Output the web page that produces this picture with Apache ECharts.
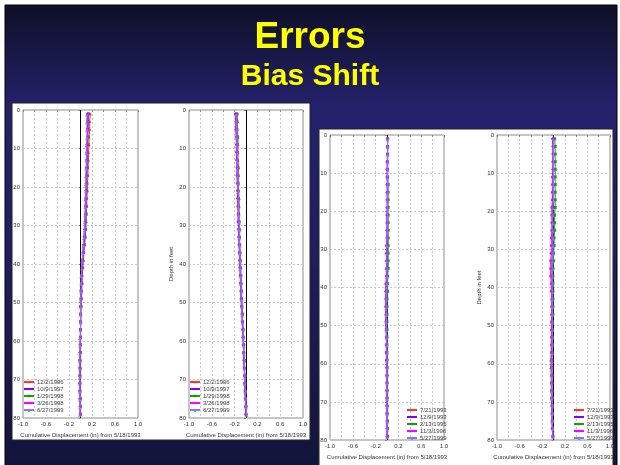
<!DOCTYPE html>
<html><head><meta charset="utf-8">
<script src="https://cdn.jsdelivr.net/npm/echarts@6/dist/echarts.min.js"></script>
<style>html,body{margin:0;padding:0;background:#fff}#c{width:620px;height:465px}</style>
</head><body><div id="c"></div>
<script>
// depths (ft) of readings
const depths = [1,3,5,7,9,11,13,15,17,19,21,23,25,27,29,31,33,35,37,39,41,43,45,47,49,51,53,55,57,59,61,63,65,67,69,71,73,75,77,79];
const xTicks = [-1.0,-0.6,-0.2,0.2,0.6,1.0];
const namesLeft = ['12/2/1996','10/9/1997','1/29/1998','3/26/1998','6/27/1999'];
const namesRight = ['7/21/1993','12/9/1993','2/13/1995','11/3/1996','5/27/1999'];
const colors = ['#ff3333','#8000ff','#1a9a1a','#ff00ff','#7b7bff'];
const symbols = ['triangle','diamond','rect','circle','arrow'];

// Plot 1 (left panel, left)
const p1Red = [0.17,0.16,0.16,0.15,0.15,0.14,0.14,0.13,0.13,0.12,0.12,0.11,0.11,0.10,0.10,0.09,0.08,0.07,0.06,0.05,0.04,0.03,0.03,0.02,0.02,0.01,0.01,0.01,0.00,0.00,0.00,0.00,0.00,0.00,-0.01,-0.01,-0.01,-0.01,0.00,0.00];
const p1Purple = [0.12,0.12,0.12,0.12,0.11,0.11,0.11,0.10,0.10,0.10,0.09,0.09,0.09,0.08,0.08,0.07,0.06,0.05,0.04,0.03,0.02,0.02,0.01,0.01,0.01,0.00,0.00,0.00,0.00,0.00,-0.01,-0.01,-0.01,-0.01,-0.01,-0.01,-0.01,-0.01,-0.01,-0.01];
const p1Green = [0.14,0.14,0.13,0.13,0.13,0.12,0.12,0.12,0.11,0.11,0.11,0.10,0.10,0.10,0.09,0.09,0.08,0.07,0.05,0.04,0.03,0.02,0.02,0.01,0.01,0.01,0.00,0.00,0.00,0.00,0.00,0.00,-0.01,-0.01,-0.01,-0.01,-0.01,0.00,0.00,0.00];
const p1Magenta = [0.13,0.13,0.13,0.12,0.12,0.12,0.11,0.11,0.11,0.10,0.10,0.10,0.09,0.09,0.08,0.08,0.07,0.06,0.05,0.04,0.03,0.02,0.02,0.01,0.01,0.00,0.00,0.00,0.00,0.00,0.00,-0.01,-0.01,-0.01,-0.01,-0.01,-0.01,-0.01,0.00,0.00];
const p1Blue = [0.11,0.11,0.11,0.11,0.10,0.10,0.10,0.10,0.09,0.09,0.09,0.08,0.08,0.08,0.07,0.07,0.06,0.05,0.04,0.03,0.02,0.01,0.01,0.01,0.00,0.00,0.00,0.00,0.00,-0.01,-0.01,-0.01,-0.01,-0.01,-0.01,-0.01,-0.01,-0.01,-0.01,-0.01];

// Plot 2 (left panel, right)
const p2Red = [-0.15,-0.15,-0.15,-0.14,-0.14,-0.14,-0.14,-0.13,-0.13,-0.13,-0.13,-0.12,-0.12,-0.12,-0.12,-0.11,-0.11,-0.11,-0.10,-0.10,-0.09,-0.09,-0.08,-0.08,-0.07,-0.07,-0.06,-0.06,-0.05,-0.05,-0.04,-0.04,-0.03,-0.03,-0.02,-0.02,-0.02,-0.01,-0.01,0.00];
const p2Purple = [-0.19,-0.18,-0.18,-0.17,-0.17,-0.17,-0.16,-0.16,-0.16,-0.15,-0.15,-0.15,-0.14,-0.14,-0.14,-0.13,-0.13,-0.12,-0.12,-0.11,-0.11,-0.10,-0.10,-0.09,-0.09,-0.08,-0.07,-0.07,-0.06,-0.05,-0.05,-0.04,-0.04,-0.03,-0.03,-0.02,-0.02,-0.01,-0.01,0.00];
const p2Green = [-0.16,-0.16,-0.16,-0.15,-0.15,-0.15,-0.15,-0.14,-0.14,-0.14,-0.14,-0.13,-0.13,-0.13,-0.12,-0.12,-0.12,-0.11,-0.11,-0.10,-0.10,-0.09,-0.09,-0.08,-0.08,-0.07,-0.06,-0.06,-0.05,-0.05,-0.04,-0.04,-0.03,-0.03,-0.02,-0.02,-0.01,-0.01,0.00,0.00];
const p2Magenta = [-0.18,-0.17,-0.17,-0.17,-0.16,-0.16,-0.16,-0.15,-0.15,-0.15,-0.14,-0.14,-0.14,-0.13,-0.13,-0.13,-0.12,-0.12,-0.11,-0.11,-0.10,-0.10,-0.09,-0.09,-0.08,-0.08,-0.07,-0.06,-0.06,-0.05,-0.04,-0.04,-0.03,-0.03,-0.02,-0.02,-0.01,-0.01,0.00,0.00];
const p2Blue = [-0.17,-0.17,-0.16,-0.16,-0.16,-0.15,-0.15,-0.15,-0.14,-0.14,-0.14,-0.13,-0.13,-0.13,-0.12,-0.12,-0.12,-0.11,-0.11,-0.10,-0.10,-0.09,-0.09,-0.08,-0.08,-0.07,-0.07,-0.06,-0.05,-0.05,-0.04,-0.04,-0.03,-0.03,-0.02,-0.02,-0.01,-0.01,0.00,0.01];

// Plot 3 (right panel, left)
const p3Red = [0.01,0.01,0.01,0.01,0.01,0.01,0.01,0.01,0.01,0.01,0.01,0.01,0.01,0.01,0.01,0.00,0.00,0.00,0.00,-0.01,-0.01,-0.01,-0.02,-0.02,-0.02,-0.02,-0.01,-0.01,-0.01,-0.01,0.00,0.00,0.00,0.00,0.00,0.01,0.01,0.01,0.01,0.01];
const p3Purple = [0.01,0.01,0.01,0.01,0.01,0.01,0.01,0.01,0.01,0.01,0.00,0.00,0.00,0.00,0.00,0.00,0.00,-0.01,-0.01,-0.01,-0.02,-0.02,-0.02,-0.02,-0.02,-0.01,-0.01,-0.01,-0.01,-0.01,0.00,0.00,0.00,0.00,0.00,0.00,0.00,0.00,0.00,0.00];
const p3Green = [0.01,0.01,0.01,0.01,0.01,0.01,0.02,0.02,0.02,0.02,0.02,0.02,0.02,0.02,0.02,0.02,0.02,0.02,0.01,0.01,0.01,0.00,0.00,0.00,0.00,0.00,0.00,0.00,0.00,0.00,0.00,0.00,0.00,0.00,0.00,0.00,0.00,0.01,0.01,0.01];
const p3Magenta = [0.01,0.01,0.01,0.00,0.00,0.00,0.00,0.00,0.00,0.00,0.00,0.00,0.00,0.00,-0.01,-0.01,-0.01,-0.01,-0.01,-0.02,-0.02,-0.02,-0.02,-0.01,-0.01,-0.01,-0.01,-0.01,-0.01,0.00,0.00,0.00,0.00,0.00,0.00,0.00,0.00,0.00,0.00,0.00];
const p3Blue = [0.01,0.01,0.01,0.01,0.01,0.01,0.01,0.01,0.01,0.01,0.01,0.01,0.01,0.00,0.00,0.00,0.00,0.00,0.00,0.00,-0.01,-0.01,-0.01,-0.01,-0.01,-0.01,-0.01,0.00,0.00,0.00,0.00,0.00,0.00,0.00,0.00,0.00,0.00,0.00,0.00,0.00];

// Plot 4 (right panel, right)
const p4Red = [0.00,0.00,0.00,0.00,0.00,0.00,0.00,-0.01,-0.01,-0.01,-0.01,-0.01,-0.02,-0.02,-0.02,-0.02,-0.03,-0.03,-0.03,-0.03,-0.03,-0.03,-0.03,-0.03,-0.04,-0.04,-0.04,-0.04,-0.04,-0.05,-0.05,-0.04,-0.04,-0.04,-0.04,-0.03,-0.03,-0.03,-0.02,-0.01];
const p4Purple = [-0.02,-0.01,-0.01,-0.01,-0.01,-0.01,-0.01,-0.01,-0.01,-0.01,-0.01,-0.01,-0.01,-0.01,-0.01,-0.02,-0.02,-0.02,-0.02,-0.02,-0.02,-0.02,-0.02,-0.02,-0.02,-0.02,-0.02,-0.03,-0.03,-0.03,-0.03,-0.03,-0.03,-0.03,-0.03,-0.03,-0.02,-0.02,-0.02,-0.01];
const p4Green = [0.02,0.03,0.03,0.03,0.03,0.03,0.03,0.03,0.03,0.03,0.02,0.02,0.02,0.01,0.01,0.00,0.00,-0.01,-0.01,-0.01,-0.01,-0.01,-0.01,-0.01,-0.02,-0.02,-0.02,-0.02,-0.03,-0.03,-0.03,-0.03,-0.03,-0.03,-0.02,-0.02,-0.02,-0.02,-0.02,-0.01];
const p4Magenta = [-0.01,-0.01,-0.01,-0.01,-0.01,-0.02,-0.02,-0.02,-0.02,-0.03,-0.03,-0.03,-0.03,-0.04,-0.04,-0.04,-0.05,-0.05,-0.05,-0.04,-0.04,-0.03,-0.03,-0.03,-0.03,-0.03,-0.03,-0.03,-0.03,-0.03,-0.03,-0.03,-0.03,-0.03,-0.03,-0.02,-0.02,-0.02,-0.02,-0.01];
const p4Blue = [0.00,0.00,0.00,0.00,0.00,0.00,0.00,0.00,0.00,-0.01,-0.01,-0.01,-0.01,-0.01,-0.01,-0.01,-0.02,-0.02,-0.02,-0.02,-0.02,-0.02,-0.02,-0.02,-0.02,-0.02,-0.02,-0.02,-0.02,-0.03,-0.03,-0.03,-0.03,-0.03,-0.03,-0.02,-0.02,-0.02,-0.01,-0.01];

const plots = [
  {vals:[p1Red,p1Purple,p1Green,p1Magenta,p1Blue], names:namesLeft, grid:{left:23,top:110,width:115,height:308}, depthName:false, legend:{left:23,top:379}},
  {vals:[p2Red,p2Purple,p2Green,p2Magenta,p2Blue], names:namesLeft, grid:{left:189,top:110,width:114,height:308}, depthName:true, legend:{left:189,top:379}},
  {vals:[p3Red,p3Purple,p3Green,p3Magenta,p3Blue], names:namesRight, grid:{left:330,top:135,width:114,height:309}, depthName:false, legend:{left:406,top:407}},
  {vals:[p4Red,p4Purple,p4Green,p4Magenta,p4Blue], names:namesRight, grid:{left:497,top:135,width:113,height:309}, depthName:true, legend:{left:573,top:407}}
];

const FONT = 'Liberation Sans, Arial, sans-serif';
const grids=[], xAxes=[], yAxes=[], series=[], legends=[];
plots.forEach((p, gi) => {
  grids.push(Object.assign({show:true, borderColor:'#8a8a8a', borderWidth:1, backgroundColor:'#fff', containLabel:false}, p.grid));
  xAxes.push({type:'value', gridIndex:gi, min:-1, max:1, interval:0.2,
    name:'Cumulative Displacement (in) from 5/18/1993', nameLocation:'middle', nameGap:14,
    nameTextStyle:{fontSize:6, color:'#333', fontFamily:FONT},
    axisLine:{show:false}, axisTick:{show:true, length:2, lineStyle:{color:'#888'}},
    axisLabel:{fontSize:6, color:'#333', margin:3, fontFamily:FONT,
      formatter:v => xTicks.some(t => Math.abs(t - v) < 1e-6) ? v.toFixed(1) : ''},
    splitLine:{show:true, lineStyle:{color:'#c8c8c8', type:[2,2], width:1}}});
  yAxes.push({type:'value', gridIndex:gi, min:0, max:80, interval:10, inverse:true,
    name: p.depthName ? 'Depth in feet' : '', nameLocation:'middle', nameGap:15, nameRotate:90,
    nameTextStyle:{fontSize:6, color:'#333', fontFamily:FONT},
    axisLine:{show:false}, axisTick:{show:true, length:2, lineStyle:{color:'#888'}},
    axisLabel:{fontSize:6, color:'#333', margin:3, fontFamily:FONT},
    splitLine:{show:true, lineStyle:{color:'#c8c8c8', type:[2,2], width:1}}});
  p.vals.forEach((arr, si) => {
    const s = {type:'line', name:p.names[si], xAxisIndex:gi, yAxisIndex:gi,
      data: depths.map((d,k) => [arr[k], d]),
      symbol:symbols[si], symbolSize:3, showSymbol:true,
      lineStyle:{color:colors[si], width:1}, itemStyle:{color:colors[si]},
      color:colors[si], z:3+si, animation:false};
    if (si === 0) s.markLine = {silent:true, symbol:'none', label:{show:false}, animation:false,
      lineStyle:{color:'#000', type:'solid', width:1}, data:[{xAxis:0}]};
    series.push(s);
  });
  legends.push({orient:'vertical', left:p.legend.left, top:p.legend.top, data:p.names,
    itemWidth:10, itemHeight:3, itemGap:1, padding:0, selectedMode:false,
    textStyle:{fontSize:6, color:'#444', fontFamily:FONT, padding:[0,0,0,-2]}});
});

const chart = echarts.init(document.getElementById('c'), null, {renderer:'canvas'});
chart.setOption({
  animation:false,
  graphic:[
    {type:'rect', z:-20, shape:{x:5,y:5,width:612,height:462},
     style:{stroke:'#000', lineWidth:1, fill:{type:'linear',x:0,y:0,x2:0,y2:1,colorStops:[
       {offset:0,color:'#0e0f27'},{offset:0.22,color:'#23226b'},{offset:0.5,color:'#211f63'},{offset:1,color:'#13143a'}]}}},
    {type:'rect', z:-10, shape:{x:12,y:103,width:298,height:337}, style:{fill:'#fff', stroke:'#222', lineWidth:1}},
    {type:'rect', z:-10, shape:{x:319,y:129,width:294,height:340}, style:{fill:'#fff', stroke:'#222', lineWidth:1}}
  ],
  title:[
    {text:'Errors', left:'center', top:14, textStyle:{color:'#ffff00', fontSize:37, fontWeight:'bold', fontFamily:FONT}},
    {text:'Bias Shift', left:'center', top:57, textStyle:{color:'#ffff00', fontSize:30, fontWeight:'bold', fontFamily:FONT}}
  ],
  legend:legends, grid:grids, xAxis:xAxes, yAxis:yAxes, series:series
});
</script></body></html>
